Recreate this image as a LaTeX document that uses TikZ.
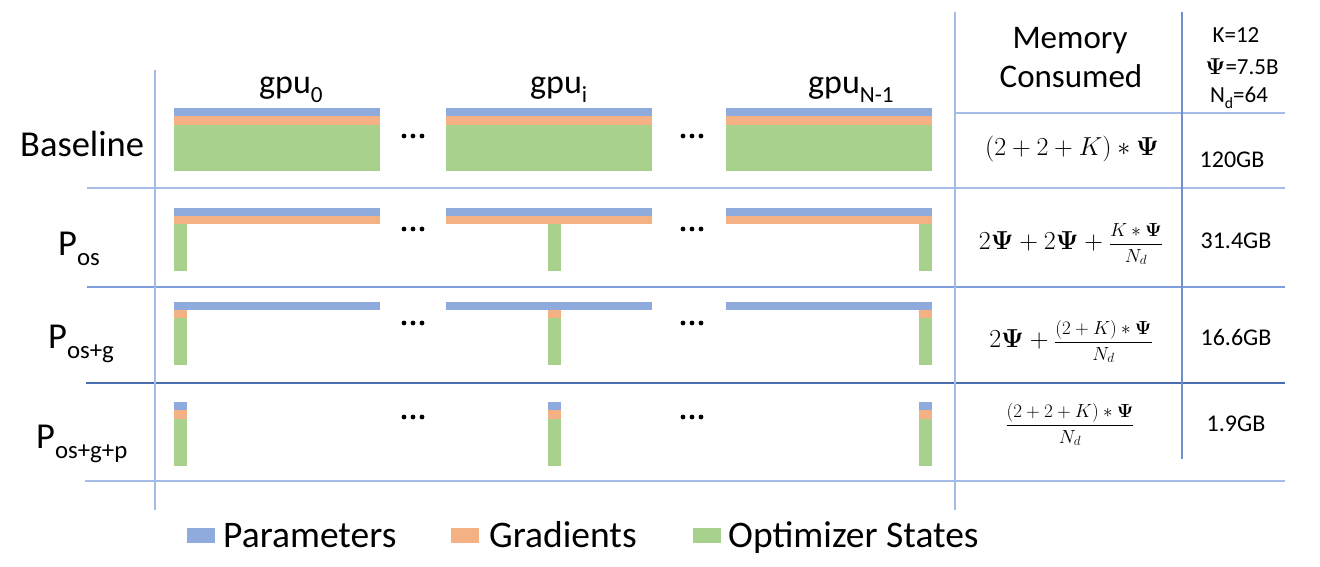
\documentclass[tikz,border=0pt]{standalone}
\usepackage{fix-cm}
\usepackage[no-math]{fontspec}
\setmainfont{Carlito}
\usepackage{graphicx}
\definecolor{parc}{HTML}{8FAADC}
\definecolor{grac}{HTML}{F4B183}
\definecolor{optc}{HTML}{A9D18E}
\definecolor{lineA}{HTML}{A4BCE6}
\definecolor{lineB}{HTML}{7F9FDC}
\definecolor{lineC}{HTML}{4A6FB0}
\definecolor{lineD}{HTML}{6F8FD0}
\newcommand\dsub[1]{\raisebox{-0.28em}{\scalebox{0.68}{#1}}}
\newcommand\sfr[2]{\mbox{\fontsize{19}{20}\selectfont$\displaystyle\frac{#1}{#2}$}}
\begin{document}
\begin{tikzpicture}[x=1pt,y=-1pt,
  txt/.style={inner sep=0pt, anchor=base west},
  ctr/.style={inner sep=0pt, anchor=base},
  big/.style={font=\fontsize{36.5}{40}\selectfont},
  head/.style={font=\fontsize{34}{38}\selectfont},
  mem/.style={font=\fontsize{33}{36}\selectfont},
  kcol/.style={font=\fontsize{23}{26}\selectfont},
  gb/.style={font=\fontsize{24}{28}\selectfont},
  fm/.style={font=\fontsize{26}{30}\selectfont},
  leg/.style={font=\fontsize{37.5}{40}\selectfont},
  grid/.style={line width=1.4pt}]
\useasboundingbox[fill=white] (0,0) rectangle (1320,566);

% grid lines
\draw[grid,lineA] (87,188) -- (1285,188);
\draw[grid,lineB] (87,287) -- (1285,287);
\draw[grid,lineC] (86,383) -- (1285,383);
\draw[grid,lineA] (85,481) -- (1285,481);
\draw[grid,lineA] (955,113) -- (1285,113);
\draw[grid,lineA] (155,70) -- (155,510);
\draw[grid,lineA] (955,12) -- (955,510);
\draw[grid,lineD] (1182,12) -- (1182,459);

% bars
\foreach \L/\N in {174/174,446/548,726/919}{
  \fill[parc] (\L,108) rectangle ++(206,8);
  \fill[grac] (\L,116) rectangle ++(206,9);
  \fill[optc] (\L,125) rectangle ++(206,46);
  \fill[parc] (\L,208) rectangle ++(206,8);
  \fill[grac] (\L,216) rectangle ++(206,8);
  \fill[optc] (\N,224) rectangle ++(13,47);
  \fill[parc] (\L,302) rectangle ++(206,8);
  \fill[grac] (\N,310) rectangle ++(13,8);
  \fill[optc] (\N,318) rectangle ++(13,47);
  \fill[parc] (\N,402) rectangle ++(13,8);
  \fill[grac] (\N,410) rectangle ++(13,9);
  \fill[optc] (\N,419) rectangle ++(13,47);
}

% dots
\foreach \y in {136,229,323,417}
  \foreach \x in {404,413,422,683,692,701}
    \fill (\x,\y) circle (2.4);

% headers
\node[txt,head] (g0) at (259,93) {gpu\dsub{0}};
\node[txt,head] (gi) at (530,93) {gpu\dsub{i}};
\node[txt,head] (gn) at (808,93) {gpu\dsub{N-1}};

% row labels
\node[txt,big] (rb) at (20,156) {Baseline};
\node[txt,big] (r1) at (58,255) {P\dsub{os}};
\node[txt,big] (r2) at (48,348) {P\dsub{os+g}};
\node[txt,big] (r3) at (36,448) {P\dsub{os+g+p}};

% memory header
\node[ctr,mem] (m1) at (1070,48) {Memory};
\node[ctr,mem] (m2) at (1071,87) {Consumed};

% constants
\node[ctr,kcol] (k1) at (1236,42) {K=12};
\node[ctr,kcol] (k2) at (1242,74) {$\mathbf{\Psi}$=7.5B};
\node[ctr,kcol] (k3) at (1239,102) {N\dsub{d}=64};

% formulas
\node[ctr,fm] (f1) at (1072,155) {$(2+2+K)\ast\mathbf{\Psi}$};
\node[ctr,fm] (f2) at (1071,249) {$2\mathbf{\Psi}+2\mathbf{\Psi}+\sfr{K\ast\mathbf{\Psi}}{N_d}$};
\node[ctr,fm] (f3) at (1071,347) {$2\mathbf{\Psi}+\sfr{(2+K)\ast\mathbf{\Psi}}{N_d}$};
\node[ctr,fm] (f4) at (1070,430) {\sfr{(2+2+K)\ast\mathbf{\Psi}}{N_d}};

% memory values
\node[ctr,gb] (v1) at (1232,167) {120GB};
\node[ctr,gb] (v2) at (1236,248) {31.4GB};
\node[ctr,gb] (v3) at (1236,345) {16.6GB};
\node[ctr,gb] (v4) at (1236,431) {1.9GB};

% legend
\fill[parc] (187,528) rectangle (215,543);
\node[txt,leg] (lp) at (223,547) {Parameters};
\fill[grac] (451,528) rectangle (479,543);
\node[txt,leg] (lg) at (489,547) {Gradients};
\fill[optc] (693,528) rectangle (721,543);
\node[txt,leg] (lo) at (728,547) {Optimizer States};
\end{tikzpicture}
\end{document}
